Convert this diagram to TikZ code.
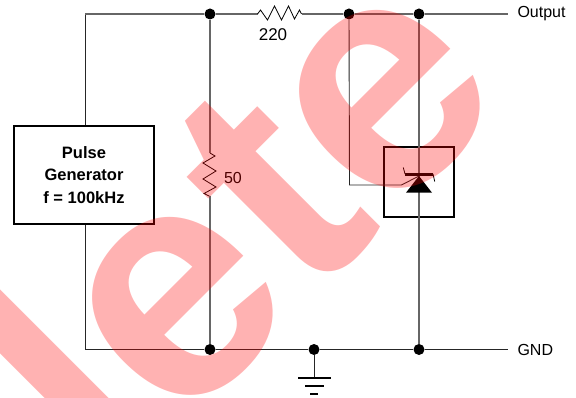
\documentclass[tikz,border=0pt]{standalone}
\usepackage{fontspec}
\setmainfont{Liberation Sans}
\usetikzlibrary{positioning}
\tikzset{x=1pt, y=-1pt, % Coordinates follow the pixels of the sheet
every node/.style={font=\fontsize{16}{19}\selectfont},
wire/.style={draw=black!60, line width=1.2pt},
thinwire/.style={draw=black!85, line width=0.9pt},
zigwire/.style={draw=black, line width=0.8pt},
junction/.style={circle, fill=black, inner sep=0pt, minimum size=11pt},
genbox/.style={draw=black, line width=1.2pt,
  minimum width=140pt, minimum height=98pt, align=center, inner sep=2pt,
  font=\fontsize{16.5}{22.5}\selectfont\bfseries},
stamptext/.style={text=red, text opacity=0.3, inner sep=0pt, rotate=45,
  font=\fontsize{330}{330}\selectfont\bfseries}}

\begin{document}
\begin{tikzpicture}
    \useasboundingbox (0,0) rectangle (576,398);
    \clip (0,0) rectangle (576,398);

    % Junctions along the top and bottom rails
    \node[junction] (topa) at (210,14) {};
    \node[junction] (topb) at (349,14) {};
    \node[junction] (topc) at (419,14) {};
    \node[junction] (gnda) at (210,349.5) {};
    \node[junction] (gndb) at (314,349.5) {};
    \node[junction] (gndc) at (419,349.5) {};

    \node[genbox] (gen) at (84,175) {Pulse\\Generator\\f = 100kHz};
    \node[draw=black, line width=1.2pt, minimum size=70pt, inner sep=0pt] (fet) at (419,182) {};

    \coordinate (topleft) at (85,14);
    \coordinate (botleft) at (85,349.5);
    \coordinate (outend) at (508,14);
    \coordinate (gndend) at (508,349.5);
    \coordinate (rtopa) at (257.5,14);
    \coordinate (rtopb) at (301.5,14);
    \coordinate (rsidea) at (210,153);
    \coordinate (rsideb) at (210,196.5);
    \coordinate (gatecorner) at (349.5,185);
    \coordinate (gatebend) at (401.5,185);
    \coordinate (apex) at (419,176);
    \coordinate (gndbar) at (314,377.5);

    \node[right=6pt of outend, anchor=west] (outlabel) {Output};
    \node[right=6pt of gndend, anchor=west] (gndlabel) {GND};
    \node[font=\fontsize{17}{19}\selectfont] (rtoplabel) at (273,35) {220};
    \node (rsidelabel) at (233,178) {50};

    % Rails
    \draw[thinwire] (gen.north -| topleft) -- (topleft);
    \draw[wire] (topleft) -- (topa) -- (rtopa);
    \draw[wire] (rtopb) -- (topb) -- (topc) -- (outend);
    \draw[thinwire] (gen.south -| botleft) -- (botleft) -- (gnda) -- (gndb) -- (gndc) -- (gndend);

    % Resistors
    \draw[zigwire] (rtopa) -- ++(3,-4) -- ++(7,10) -- ++(7,-14) -- ++(7,14) -- ++(7,-14) -- ++(6,13) -- ++(5,-9) -- (rtopb);
    \draw[zigwire] (rsidea) -- ++(5,3) -- ++(-12,7) -- ++(13,8) -- ++(-13,8) -- ++(13,8) -- ++(-12,6.5) -- (rsideb);
    \draw[wire] (topa) -- (rsidea);
    \draw[wire] (rsideb) -- (gnda);

    % Device in its box
    \draw[wire] (topc) -- (gndc);
    \draw[thinwire] (topb) -- (gatecorner) -- (gatebend) -- (apex);
    \fill[black] (apex) -- (432,192.7) -- (406,192.7) -- cycle;
    \fill[black] (405,173) rectangle (433,176.5);
    \draw[black, line width=0.8pt] (403.3,167.5) -- (405,174);
    \draw[black, line width=0.8pt] (433,174) -- (434.7,181.5);

    % Earth symbol
    \draw[thinwire] (gndb) -- (gndbar);
    \draw[black, line width=2pt] (298,377.5) -- (331,377.5);
    \draw[black, line width=2pt] (305,385.5) -- (324,385.5);
    \draw[black, line width=2pt] (310,393.5) -- (318,393.5);

    \node[stamptext] (stampword) at (81,363) {Delete};

\end{tikzpicture}
\end{document}
